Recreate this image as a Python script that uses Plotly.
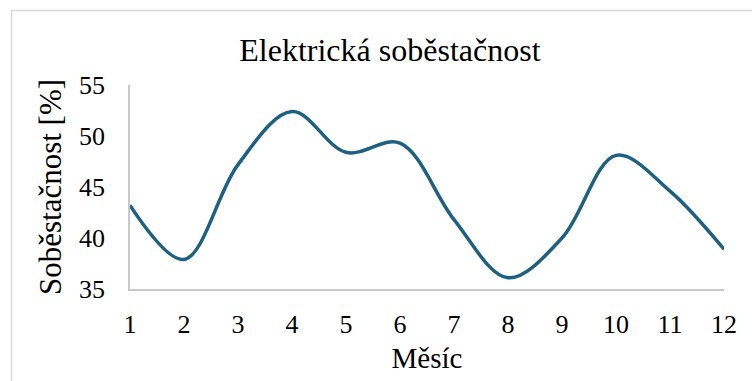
import plotly.graph_objects as go

months = [1, 2, 3, 4, 5, 6, 7, 8, 9, 10, 11, 12]
sobestacnost = [43.2, 37.9, 47.2, 52.4, 48.4, 49.3, 41.8, 36.1, 40.0, 48.1, 44.6, 38.9]
y_ticks = [35, 40, 45, 50, 55]

FONT = "Liberation Serif, Times New Roman, serif"

fig = go.Figure()
fig.add_trace(go.Scatter(
    x=months, y=sobestacnost, mode="lines",
    line=dict(color="#1d6082", width=3.5, shape="spline", smoothing=1.0),
    hoverinfo="skip", showlegend=False,
))

fig.update_layout(
    width=752, height=381,
    margin=dict(l=130, r=28, t=85, b=92),
    paper_bgcolor="white", plot_bgcolor="white",
    font=dict(family=FONT, color="black", size=26),
    title=dict(text="Elektrická soběstačnost", x=0.5185, xanchor="center",
               y=1 - 50 / 381, yanchor="middle", yref="container",
               font=dict(family=FONT, size=32, color="black")),
    xaxis=dict(range=[1, 12], tickvals=months, ticktext=[str(m) for m in months],
               showgrid=False, zeroline=False, showline=True, linecolor="#c8c8c8",
               linewidth=1.5, ticks="", tickfont=dict(family=FONT, size=26),
               ticklabelstandoff=11,
               title=dict(text="Měsíc", font=dict(family=FONT, size=29), standoff=10)),
    yaxis=dict(range=[35, 55], tickvals=y_ticks,
               showgrid=False, zeroline=False, showline=True, linecolor="#c8c8c8",
               linewidth=1.5, ticks="", tickfont=dict(family=FONT, size=26),
               ticklabelstandoff=18,
               title=dict(text="Soběstačnost [%]", font=dict(family=FONT, size=31), standoff=8)),
    shapes=[dict(type="rect", xref="paper", yref="paper",
                 x0=(11.5 - 130) / 594, x1=(770 - 130) / 594,
                 y0=(289 - 400) / 204, y1=(289 - 10.5) / 204,
                 line=dict(color="#d9d9d9", width=1.5), layer="below")],
)

fig.write_html("out.html")
